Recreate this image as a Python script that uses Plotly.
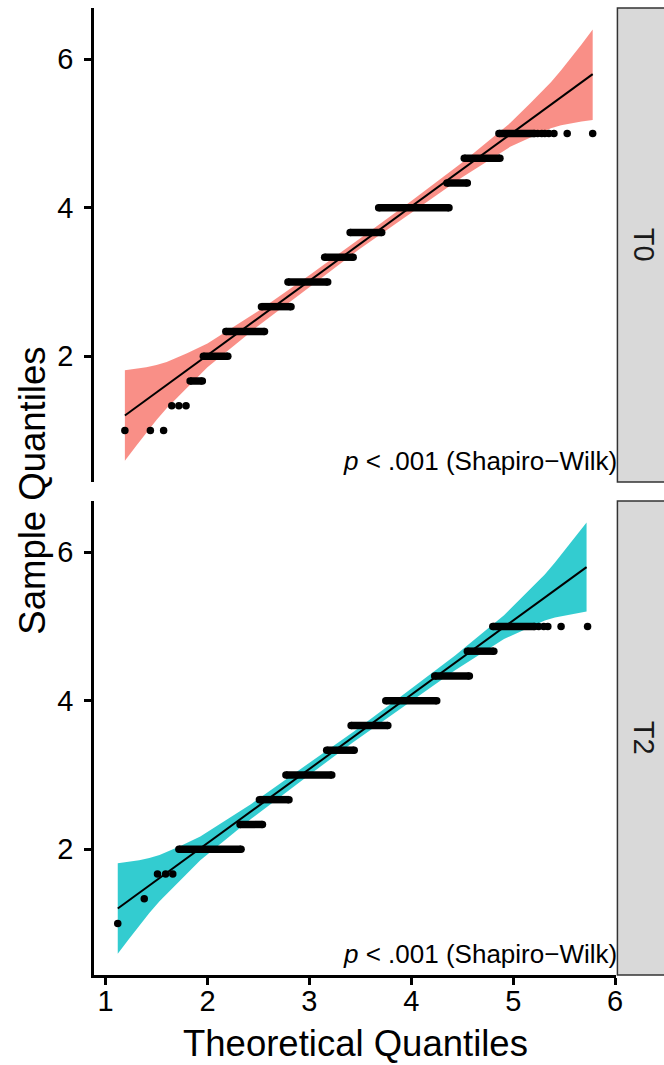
import plotly.graph_objects as go

# ---------------- data ----------------
x_ticks = [1, 2, 3, 4, 5, 6]
y_ticks = [2, 4, 6]
panel_names = ["T0", "T2"]
p_label = "<i>p</i> &lt; .001 (Shapiro\u2212Wilk)"

# T0 : horizontal runs of tied sample quantiles
t0_run_level = [1.667, 2.0, 2.333, 2.667, 3.0, 3.333, 3.667, 4.0, 4.333, 4.667, 5.0]
t0_run_start = [1.83, 1.96, 2.18, 2.53, 2.79, 3.15, 3.40, 3.68, 4.35, 4.52, 4.86]
t0_run_end = [1.95, 2.20, 2.56, 2.82, 3.18, 3.43, 3.71, 4.37, 4.55, 4.87, 5.21]
t0_dot_x = [1.19, 1.44, 1.57, 1.65, 1.72, 1.79, 5.24, 5.28, 5.31, 5.35, 5.40, 5.53, 5.78]
t0_dot_y = [1.0, 1.0, 1.0, 1.333, 1.333, 1.333, 5.0, 5.0, 5.0, 5.0, 5.0, 5.0, 5.0]
t0_line_x = [1.19, 5.78]
t0_line_y = [1.20, 5.80]
t0_band_x = [1.19, 1.30, 1.40, 1.50, 1.60, 1.80, 2.00, 2.50, 3.00, 3.49, 4.00, 4.50,
             4.97, 5.17, 5.37, 5.47, 5.57, 5.67, 5.78]
t0_band_hi = [1.81, 1.83, 1.85, 1.88, 1.92, 2.04, 2.17, 2.61, 3.09, 3.58, 4.09, 4.61,
              5.14, 5.41, 5.69, 5.85, 6.02, 6.20, 6.40]
t0_band_lo = [0.59, 0.79, 0.97, 1.14, 1.30, 1.58, 1.85, 2.41, 2.93, 3.44, 3.93, 4.41,
              4.82, 4.95, 5.07, 5.11, 5.14, 5.16, 5.18]

# T2
t2_run_level = [2.0, 2.333, 2.667, 3.0, 3.333, 3.667, 4.0, 4.333, 4.667, 5.0]
t2_run_start = [1.72, 2.32, 2.51, 2.77, 3.17, 3.41, 3.75, 4.23, 4.55, 4.80]
t2_run_end = [2.33, 2.54, 2.80, 3.22, 3.44, 3.77, 4.25, 4.57, 4.81, 5.21]
t2_dot_x = [1.12, 1.38, 1.51, 1.59, 1.66, 5.25, 5.30, 5.34, 5.47, 5.73]
t2_dot_y = [1.0, 1.333, 1.667, 1.667, 1.667, 5.0, 5.0, 5.0, 5.0, 5.0]
t2_line_x = [1.12, 5.72]
t2_line_y = [1.20, 5.80]
t2_band_x = [1.12, 1.23, 1.33, 1.43, 1.53, 1.73, 1.93, 2.43, 2.93, 3.43, 3.93, 4.43,
             4.91, 5.11, 5.31, 5.41, 5.51, 5.61, 5.72]
t2_band_hi = [1.81, 1.83, 1.85, 1.88, 1.92, 2.04, 2.17, 2.61, 3.09, 3.58, 4.09, 4.61,
              5.15, 5.42, 5.70, 5.86, 6.03, 6.21, 6.40]
t2_band_lo = [0.59, 0.79, 0.97, 1.14, 1.30, 1.58, 1.85, 2.41, 2.93, 3.44, 3.93, 4.41,
              4.83, 4.96, 5.08, 5.12, 5.15, 5.17, 5.20]

# ---------------- style ----------------
W, H = 664, 1065
band_colors = ["rgba(248,118,109,0.82)", "rgba(0,191,196,0.8)"]
FONT = "Liberation Sans, Arial, sans-serif"
x_dom = [95 / W, 623 / W]
y_doms = [[(H - 482) / H, (H - 8) / H], [(H - 975) / H, (H - 501) / H]]
x_range = [0.887, 6.013]
y_range = [0.305, 6.69]

panels = [
    (t0_run_level, t0_run_start, t0_run_end, t0_dot_x, t0_dot_y,
     t0_line_x, t0_line_y, t0_band_x, t0_band_hi, t0_band_lo),
    (t2_run_level, t2_run_start, t2_run_end, t2_dot_x, t2_dot_y,
     t2_line_x, t2_line_y, t2_band_x, t2_band_hi, t2_band_lo),
]

fig = go.Figure()
for i, (lv, rs, re_, dx, dy, lx, ly, bx, bh, bl) in enumerate(panels):
    xa = "x" if i == 0 else "x2"
    ya = "y" if i == 0 else "y2"
    # confidence band
    fig.add_trace(go.Scatter(
        x=list(bx) + list(bx)[::-1], y=list(bh) + list(bl)[::-1],
        fill="toself", fillcolor=band_colors[i], line=dict(width=0),
        mode="lines", hoverinfo="skip", showlegend=False, xaxis=xa, yaxis=ya))
    # reference line
    fig.add_trace(go.Scatter(
        x=lx, y=ly, mode="lines", line=dict(color="black", width=2),
        showlegend=False, xaxis=xa, yaxis=ya))
    # runs of tied points
    rx, ry = [], []
    for s, e, l in zip(rs, re_, lv):
        rx += [s, e, None]
        ry += [l, l, None]
    fig.add_trace(go.Scatter(
        x=rx, y=ry, mode="lines+markers", line=dict(color="black", width=7.5),
        marker=dict(color="black", size=7.5), showlegend=False, xaxis=xa, yaxis=ya))
    # single points
    fig.add_trace(go.Scatter(
        x=dx, y=dy, mode="markers", marker=dict(color="black", size=7.5),
        showlegend=False, xaxis=xa, yaxis=ya))

tick_font = dict(family=FONT, size=29, color="black")
axis_common = dict(showgrid=False, zeroline=False, linecolor="black", linewidth=2.5,
                   tickcolor="black", tickwidth=2.5, ticklen=7)

fig.update_layout(
    width=W, height=H, margin=dict(l=0, r=0, t=0, b=0),
    paper_bgcolor="white", plot_bgcolor="white", showlegend=False,
    font=dict(family=FONT, color="black"),
)
fig.update_layout(
    xaxis=dict(domain=x_dom, range=x_range, anchor="y", showline=False,
               showticklabels=False, ticks="", showgrid=False, zeroline=False),
    xaxis2=dict(domain=x_dom, range=x_range, anchor="y2", showline=True, ticks="outside",
                tickvals=x_ticks, ticklabelstandoff=-9, tickfont=tick_font, **axis_common),
    yaxis=dict(domain=y_doms[0], range=y_range, anchor="x", showline=True, ticks="outside",
               tickvals=y_ticks, ticklabelstandoff=5, tickfont=tick_font, **axis_common),
    yaxis2=dict(domain=y_doms[1], range=y_range, anchor="x2", showline=True, ticks="outside",
                tickvals=y_ticks, ticklabelstandoff=5, tickfont=tick_font, **axis_common),
)

shapes = []
annotations = []
for i, name in enumerate(panel_names):
    d = y_doms[i]
    shapes.append(dict(type="rect", xref="paper", yref="paper",
                       x0=624 / W, x1=1.08, y0=d[0], y1=d[1],
                       fillcolor="#D9D9D9", line=dict(color="#333333", width=1.5),
                       layer="below"))
    annotations.append(dict(text=name, xref="paper", yref="paper",
                            x=651 / W, y=(d[0] + d[1]) / 2, showarrow=False,
                            textangle=90, font=dict(family=FONT, size=29, color="#1A1A1A"),
                            xanchor="center", yanchor="middle"))
    xd = "x domain" if i == 0 else "x2 domain"
    yd = "y domain" if i == 0 else "y2 domain"
    annotations.append(dict(text=p_label, xref=xd, yref=yd, x=1.005, y=0,
                            xanchor="right", yanchor="bottom", yshift=4, showarrow=False,
                            font=dict(family=FONT, size=26, color="black")))

annotations.append(dict(text="Theoretical Quantiles", xref="paper", yref="paper",
                        x=(x_dom[0] + x_dom[1]) / 2, y=(H - 1043) / H, showarrow=False,
                        xanchor="center", yanchor="middle",
                        font=dict(family=FONT, size=36.5, color="black")))
annotations.append(dict(text="Sample Quantiles", xref="paper", yref="paper",
                        x=32 / W, y=(H - 491) / H, showarrow=False, textangle=-90,
                        xanchor="center", yanchor="middle",
                        font=dict(family=FONT, size=36.5, color="black")))

fig.update_layout(shapes=shapes, annotations=annotations)
fig.write_html("out.html")
